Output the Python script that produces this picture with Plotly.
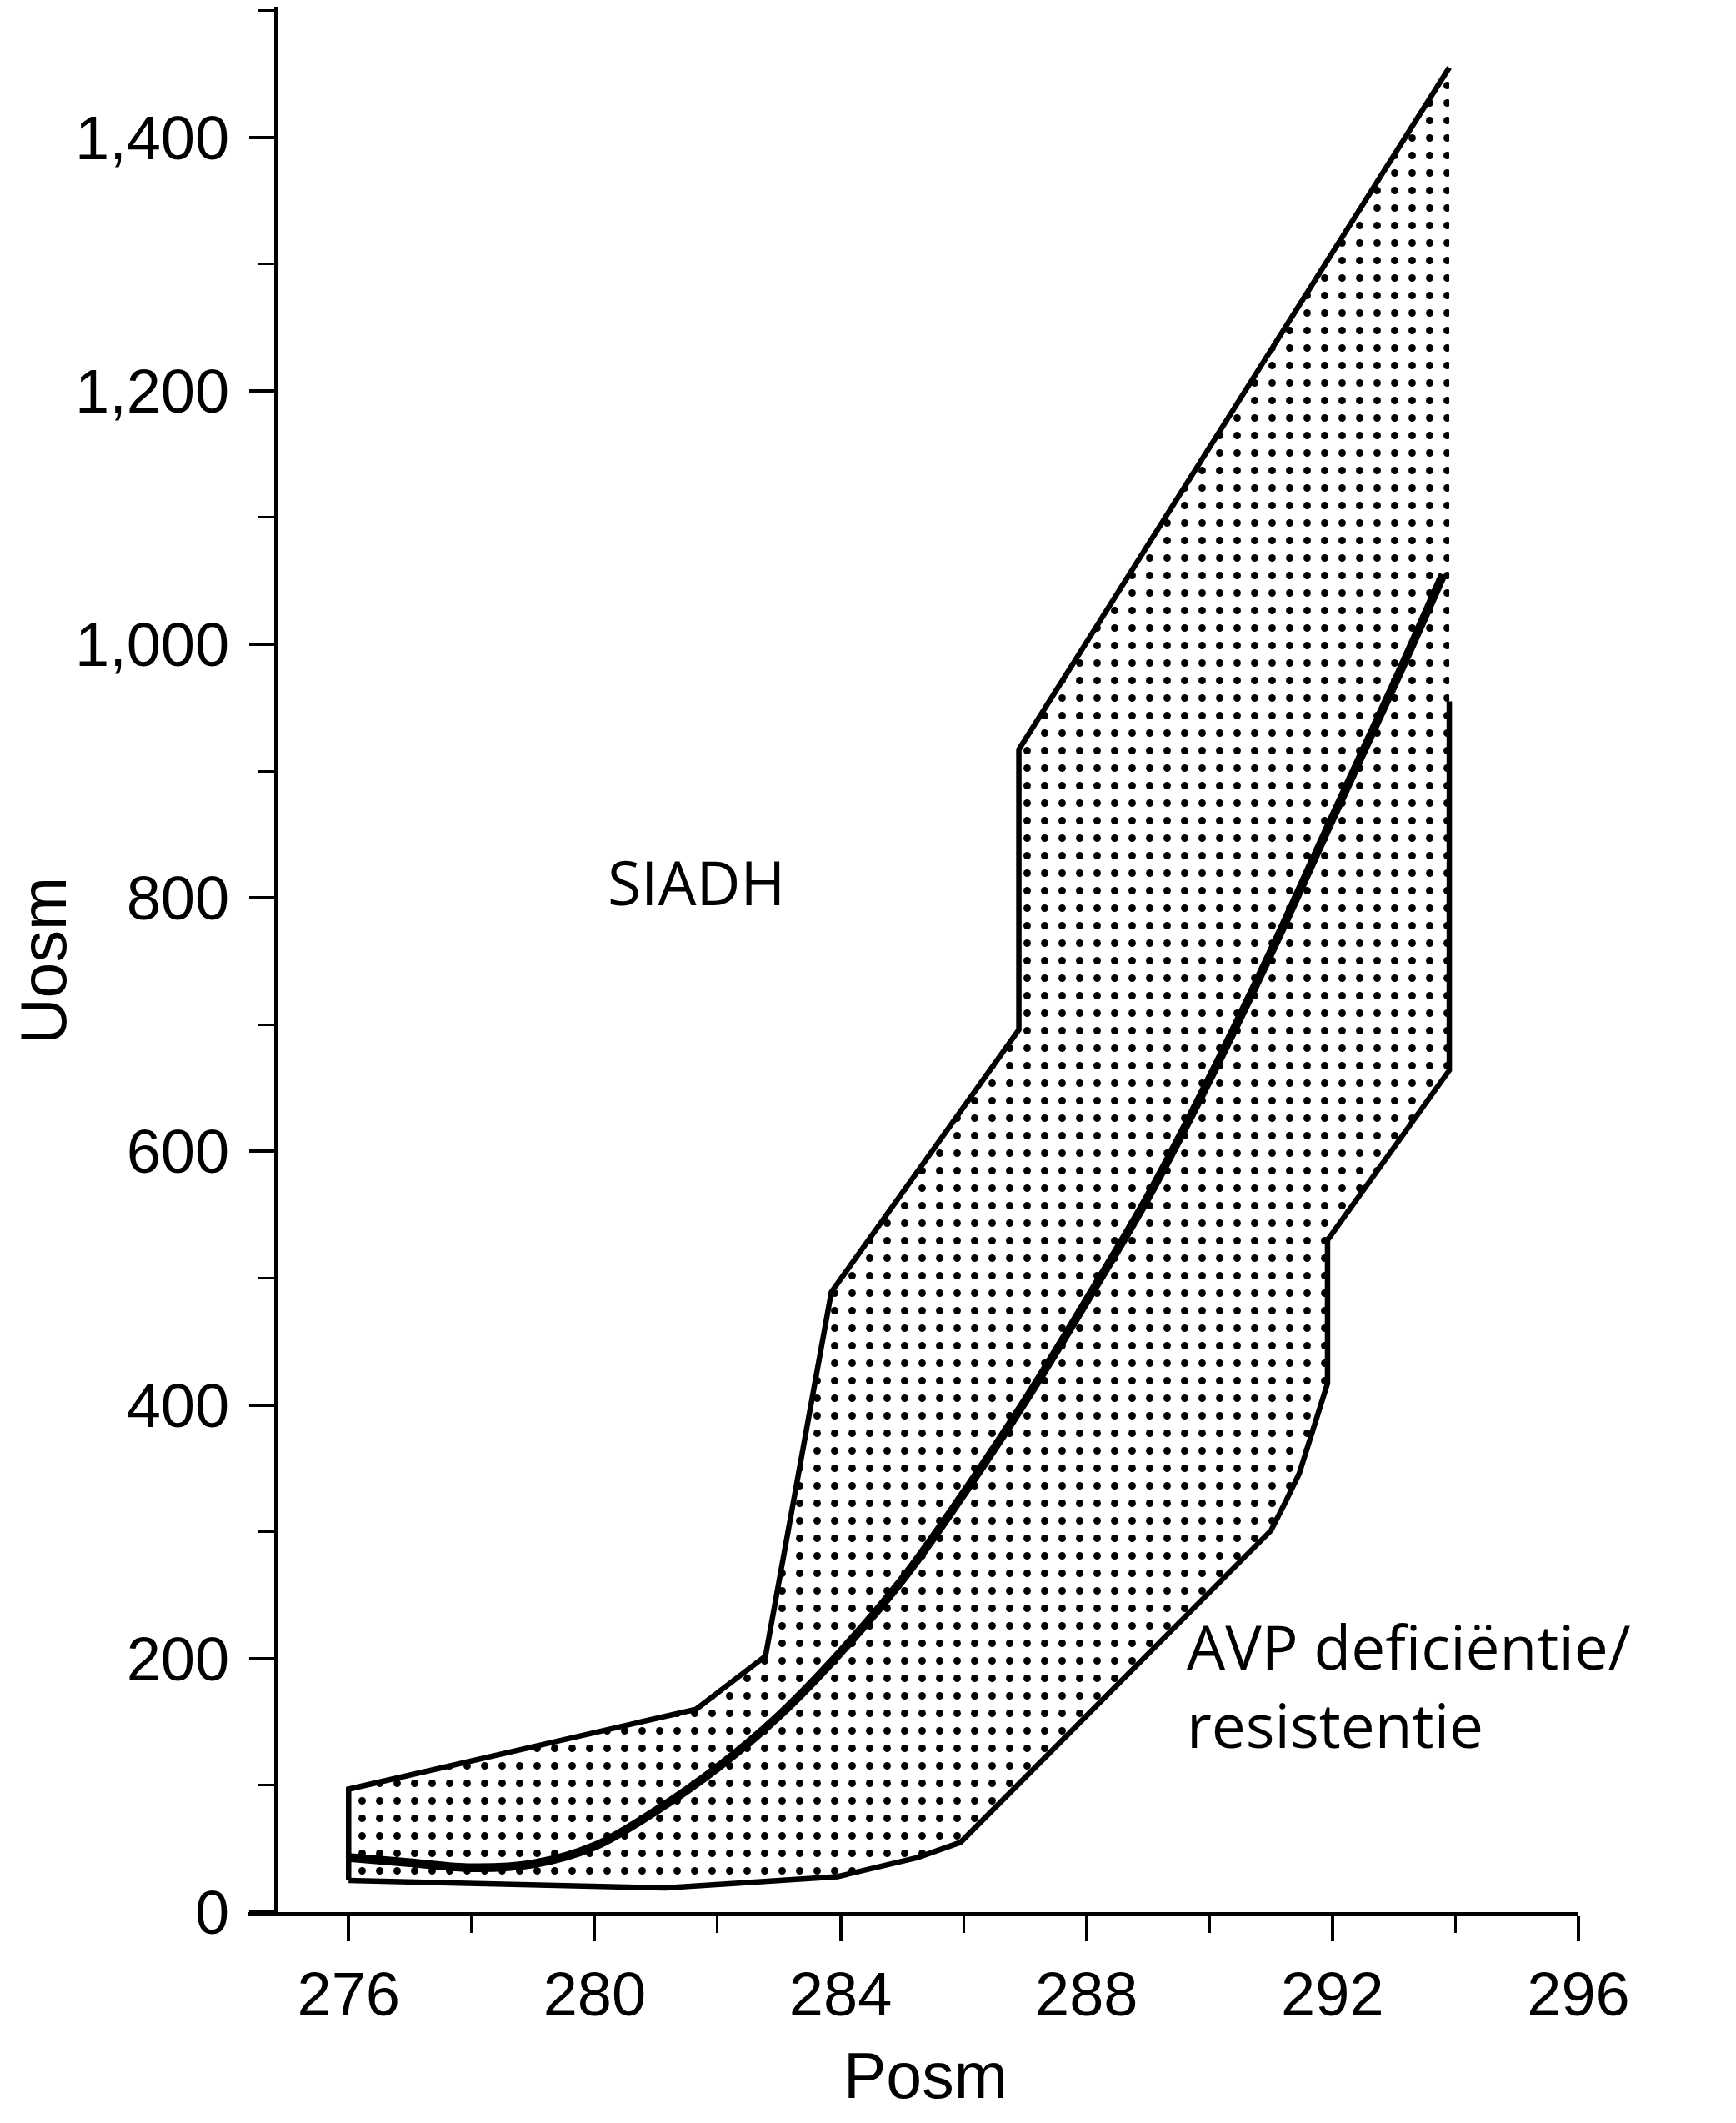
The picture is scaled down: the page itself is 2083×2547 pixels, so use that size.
import plotly.graph_objects as go

# ---------------- data ----------------
upper_x = [276.0, 276.0, 281.65, 282.78, 283.85, 286.9, 286.9, 293.9]
upper_y = [25, 97, 160, 202, 489, 696, 917, 1455]

lower_x = [276.0, 281.15, 283.95, 285.25, 285.95, 291.0, 291.23, 291.46, 291.92, 291.92, 293.9, 293.9]
lower_y = [25, 19, 28, 43, 55, 301, 323, 346, 417, 530, 664, 955]

curve_x = [276, 277, 278, 279, 280, 281, 282, 283, 284, 285, 286, 287, 288, 289, 290, 291, 292, 293, 293.8]
curve_y = [43, 39, 35, 38, 52, 80, 114, 155, 205, 262, 330, 403, 482, 564, 657, 757, 863, 968, 1055]

x_ticks = [276, 280, 284, 288, 292, 296]
y_ticks = [0, 200, 400, 600, 800, 1000, 1200, 1400]

label_siadh = "SIADH"
label_avp = ["AVP deficiëntie/", "resistentie"]
x_title = "Posm"
y_title = "Uosm"

# ---------------- layout helpers ----------------
OFF = 8            # default body margin of the html page
W, H = 2083 - OFF, 2547 - OFF


def px(x):
    return (x - OFF) / W


def py(y):
    return 1 - (y - OFF) / H


poly_x = upper_x + lower_x[::-1]
poly_y = upper_y + lower_y[::-1]

fig = go.Figure()

fig.add_trace(go.Scatter(
    x=poly_x, y=poly_y, mode="lines", fill="toself",
    line=dict(width=0, color="rgba(0,0,0,0)"),
    fillcolor="white",
    fillpattern=dict(shape=".", size=21, solidity=0.14,
                     fgcolor="black", bgcolor="white", fillmode="replace"),
    hoverinfo="skip", showlegend=False,
))
fig.add_trace(go.Scatter(
    x=upper_x, y=upper_y, mode="lines",
    line=dict(color="black", width=6.5), showlegend=False,
))
fig.add_trace(go.Scatter(
    x=lower_x, y=lower_y, mode="lines",
    line=dict(color="black", width=6.5), showlegend=False,
))
fig.add_trace(go.Scatter(
    x=curve_x, y=curve_y, mode="lines",
    line=dict(color="black", width=10.5, shape="spline", smoothing=1.0),
    showlegend=False,
))

tick_font = dict(family="Liberation Sans", size=74, color="black")
title_font = dict(family="Liberation Sans", size=77, color="black")
note_font = dict(family="Open Sans", size=73, color="black")

fig.update_layout(
    width=W, height=H,
    margin=dict(l=0, r=0, t=0, b=0, autoexpand=False),
    paper_bgcolor="white", plot_bgcolor="white",
    showlegend=False,
    xaxis=dict(
        domain=[px(298), px(1894)],
        range=[274.37, 296],
        anchor="y",
        showline=True, linecolor="black", linewidth=5,
        showgrid=False, zeroline=False,
        tickmode="array", tickvals=x_ticks, ticktext=[str(v) for v in x_ticks],
        ticks="outside", ticklen=30, tickwidth=4, tickcolor="black",
        tickfont=tick_font,
        minor=dict(ticks="outside", dtick=2, tick0=276, ticklen=20, tickwidth=3, tickcolor="black"),
    ),
    yaxis=dict(
        domain=[py(2294), py(8)],
        range=[0, (2294 - 8) / 1.521],
        anchor="free", position=px(331),
        showline=True, linecolor="black", linewidth=4,
        showgrid=False, zeroline=False,
        tickmode="array", tickvals=y_ticks, ticktext=[f"{v:,}" for v in y_ticks],
        ticks="outside", ticklen=30, tickwidth=4, tickcolor="black",
        tickfont=tick_font, ticklabelstandoff=9,
        minor=dict(ticks="outside", dtick=100, tick0=0, ticklen=20, tickwidth=3, tickcolor="black"),
    ),
    annotations=[
        dict(text=y_title, xref="paper", yref="paper", x=px(52), y=py(1153),
             xanchor="center", yanchor="middle", textangle=-90, showarrow=False, font=title_font),
        dict(text=x_title, xref="paper", yref="paper", x=px(1110), y=py(2490),
             xanchor="center", yanchor="middle", showarrow=False, font=title_font),
        dict(text=label_siadh, xref="x", yref="y", x=281.65, y=813,
             xanchor="center", yanchor="middle", showarrow=False, font=note_font),
        dict(text=label_avp[0], xref="x", yref="y", x=289.6, y=210,
             xanchor="left", yanchor="middle", showarrow=False, font=note_font),
        dict(text=label_avp[1], xref="x", yref="y", x=289.6, y=148,
             xanchor="left", yanchor="middle", showarrow=False, font=note_font),
    ],
)

fig.write_html("out.html")
